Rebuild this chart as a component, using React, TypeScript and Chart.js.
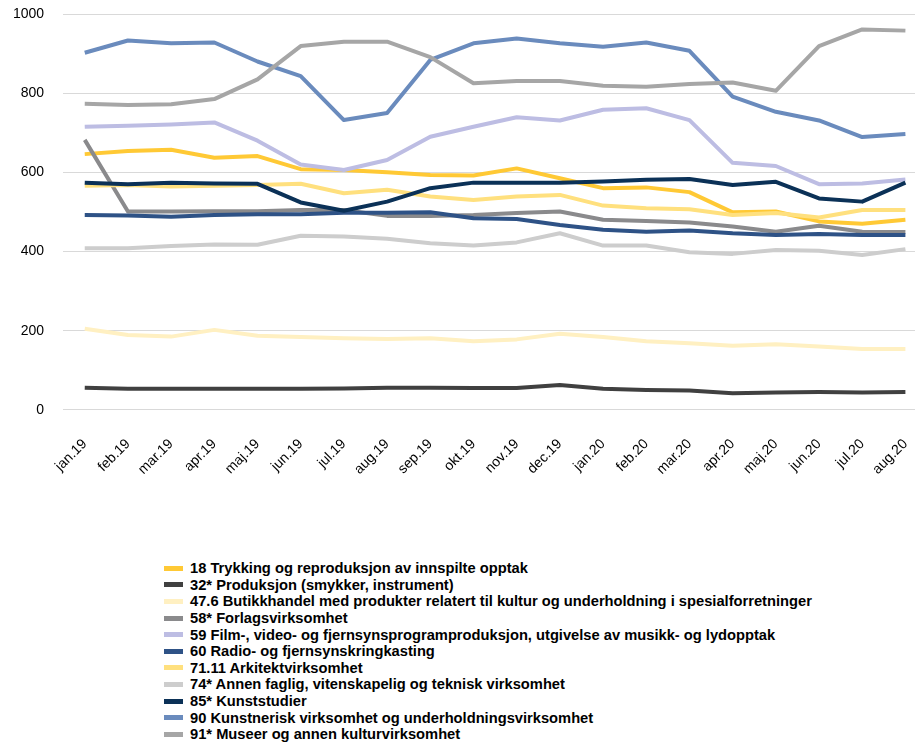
import React, { useEffect, useRef } from "react";
import { Chart, registerables } from "chart.js";

Chart.register(...registerables);

const months = [
  "jan.19", "feb.19", "mar.19", "apr.19", "maj.19", "jun.19", "jul.19", "aug.19", "sep.19", "okt.19",
  "nov.19", "dec.19", "jan.20", "feb.20", "mar.20", "apr.20", "maj.20", "jun.20", "jul.20", "aug.20",
];

const yTicks = [0, 200, 400, 600, 800, 1000];

const seriesNames = [
  "18 Trykking og reproduksjon av innspilte opptak",
  "32* Produksjon (smykker, instrument)",
  "47.6 Butikkhandel med produkter relatert til kultur og underholdning i spesialforretninger",
  "58* Forlagsvirksomhet",
  "59 Film-, video- og fjernsynsprogramproduksjon, utgivelse av musikk- og lydopptak",
  "60 Radio- og fjernsynskringkasting",
  "71.11 Arkitektvirksomhet",
  "74* Annen faglig, vitenskapelig og teknisk virksomhet",
  "85* Kunststudier",
  "90 Kunstnerisk virksomhet og underholdningsvirksomhet",
  "91* Museer og annen kulturvirksomhet",
];

const s18 = [646, 654, 657, 637, 641, 608, 606, 600, 593, 592, 610, 585, 560, 562, 550, 499, 501, 476, 470, 480];
const s32 = [56, 53, 53, 53, 53, 53, 54, 56, 56, 55, 55, 63, 53, 50, 49, 42, 44, 45, 44, 45];
const s476 = [205, 189, 185, 202, 187, 184, 181, 179, 181, 173, 178, 192, 184, 173, 168, 162, 166, 160, 154, 154];
const s58 = [682, 501, 501, 502, 502, 505, 505, 490, 490, 492, 497, 501, 480, 477, 473, 463, 450, 465, 450, 449];
const s59 = [715, 718, 721, 726, 680, 620, 606, 631, 690, 715, 739, 731, 758, 762, 732, 624, 616, 570, 572, 582];
const s60 = [492, 491, 488, 492, 494, 494, 498, 498, 499, 484, 482, 467, 455, 450, 453, 446, 442, 444, 442, 442];
const s7111 = [566, 568, 564, 566, 568, 571, 547, 556, 539, 530, 539, 543, 516, 509, 507, 492, 497, 486, 505, 505];
const s74 = [408, 408, 414, 418, 417, 440, 438, 432, 421, 415, 423, 446, 415, 415, 398, 394, 404, 402, 391, 406];
const s85 = [574, 570, 574, 572, 571, 524, 503, 526, 560, 574, 574, 574, 577, 581, 583, 568, 576, 534, 526, 574];
const s90 = [902, 933, 926, 928, 880, 843, 732, 750, 884, 926, 938, 926, 917, 928, 907, 791, 753, 731, 689, 697];
const s91 = [773, 770, 772, 785, 835, 919, 930, 930, 891, 825, 831, 831, 819, 816, 823, 827, 806, 919, 961, 958];

const seriesValues = [s18, s32, s476, s58, s59, s60, s7111, s74, s85, s90, s91];

const seriesColors = [
  "#ffc935", "#404040", "#fff0c2", "#8a8a8c", "#bdbde3", "#2e5286",
  "#ffe07e", "#cdcdcd", "#0b3157", "#6a8bbd", "#a6a6a6",
];

const FONT = "'Liberation Sans', Arial, Helvetica, sans-serif";

export default function App() {
  const canvasRef = useRef<HTMLCanvasElement | null>(null);

  useEffect(() => {
    if (!canvasRef.current) return;
    const n = seriesNames.length;
    const chart = new Chart(canvasRef.current, {
      type: "line",
      data: {
        labels: months,
        datasets: seriesNames.map((name, i) => ({
          label: name,
          data: seriesValues[i],
          borderColor: seriesColors[i],
          backgroundColor: seriesColors[i],
          borderWidth: 4,
          pointRadius: 0,
          pointHoverRadius: 0,
          tension: 0,
          fill: false,
          borderJoinStyle: "round" as const,
          order: n - i,
        })),
      },
      options: {
        animation: false,
        responsive: false,
        maintainAspectRatio: false,
        layout: { padding: { left: 10, right: 3, top: 14, bottom: 10 } },
        plugins: {
          legend: { display: false },
          tooltip: { enabled: false },
        },
        scales: {
          x: {
            offset: true,
            grid: {
              display: true,
              drawOnChartArea: false,
              drawTicks: true,
              tickLength: 23,
              color: "rgba(0,0,0,0)",
              tickColor: "rgba(0,0,0,0)",
            },
            border: { display: false },
            ticks: {
              color: "#000",
              font: { family: FONT, size: 14 },
              minRotation: 45,
              maxRotation: 45,
              padding: 3,
              autoSkip: false,
            },
          },
          y: {
            min: 0,
            max: 1000,
            afterBuildTicks: (scale: any) => {
              scale.ticks = yTicks.map((v) => ({ value: v }));
            },
            grid: {
              color: "#d9d9d9",
              lineWidth: 1,
              drawTicks: true,
              tickLength: 16,
              tickColor: "rgba(0,0,0,0)",
            },
            border: { display: false },
            ticks: {
              color: "#000",
              font: { family: FONT, size: 14 },
              padding: 3,
              callback: (v: any) => String(v),
            },
          },
        },
      },
    });
    return () => chart.destroy();
  }, []);

  return (
    <div style={{ position: "fixed", left: 0, top: 0, width: 915, height: 742, overflow: "hidden", background: "#fff" }}>
      <canvas ref={canvasRef} width={930} height={491} style={{ position: "absolute", left: 0, top: 0, width: 930, height: 491 }} />
      <div style={{ position: "absolute", left: 164, top: 560, fontFamily: FONT, fontWeight: "bold", fontSize: 14.7, color: "#000" }}>
        {seriesNames.map((name, i) => (
          <div key={name} style={{ display: "flex", alignItems: "center", height: 16.6, whiteSpace: "nowrap" }}>
            <span style={{ display: "inline-block", width: 19, height: 5, background: seriesColors[i], marginRight: 7 }} />
            <span>{name}</span>
          </div>
        ))}
      </div>
    </div>
  );
}
